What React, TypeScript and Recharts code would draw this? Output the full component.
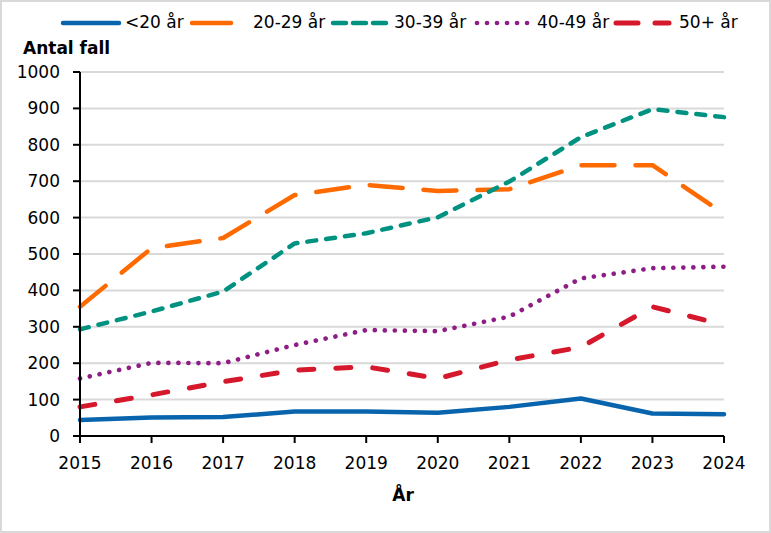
import { LineChart, Line, XAxis, YAxis, CartesianGrid } from 'recharts';

const years = ['2015', '2016', '2017', '2018', '2019', '2020', '2021', '2022', '2023', '2024'];
const under20 = [44, 51, 52, 67, 67, 64, 80, 103, 62, 60];
const age20to29 = [355, 516, 544, 662, 690, 673, 678, 744, 744, 610];
const age30to39 = [293, 342, 397, 529, 557, 601, 699, 821, 898, 876];
const age40to49 = [158, 201, 200, 250, 291, 288, 328, 433, 461, 465];
const age50plus = [80, 113, 149, 181, 190, 158, 209, 244, 355, 305];
const yTicks = [0, 100, 200, 300, 400, 500, 600, 700, 800, 900, 1000];

const series = [
  { key: 'u20', name: '<20 år', color: '#0864ad', dash: undefined, width: 4.5, lx: 63, lw: 56, ldash: undefined, tx: 125 },
  { key: 'a20', name: '20-29 år', color: '#ff6a00', dash: '33 21', width: 4.5, lx: 192, lw: 39, ldash: undefined, tx: 253 },
  { key: 'a30', name: '30-39 år', color: '#009280', dash: '9 10', width: 4.5, lx: 333, lw: 54, ldash: '13 7', tx: 394 },
  { key: 'a40', name: '40-49 år', color: '#8e1e86', dash: '0.01 10', width: 4.7, lx: 477, lw: 53, ldash: '0.01 10', tx: 537 },
  { key: 'a50', name: '50+ år', color: '#d5182b', dash: '15 22', width: 5, lx: 616, lw: 53, ldash: '22 17', tx: 679 },
];

const data = years.map((year, i) => ({
  year,
  u20: under20[i],
  a20: age20to29[i],
  a30: age30to39[i],
  a40: age40to49[i],
  a50: age50plus[i],
}));

const font = "'DejaVu Sans', Verdana, sans-serif";

export default function App() {
  return (
    <div style={{ position: 'absolute', left: 0, top: 0, width: 771, height: 533, background: '#fff', fontFamily: font }}>
      <LineChart width={771} height={533} data={data} margin={{ top: 72, right: 47, left: 20, bottom: 67 }}>
        <CartesianGrid vertical={false} stroke="#d9d9d9" strokeWidth={2} />
        <XAxis
          dataKey="year"
          height={30}
          tickSize={7}
          tickMargin={14}
          axisLine={{ stroke: '#000', strokeWidth: 2 }}
          tickLine={{ stroke: '#000', strokeWidth: 2 }}
          tick={{ fill: '#000', fontSize: 17, fontFamily: font }}
        />
        <YAxis
          domain={[0, 1000]}
          ticks={yTicks}
          width={60}
          tickSize={7}
          tickMargin={13}
          interval={0}
          axisLine={{ stroke: '#000', strokeWidth: 2 }}
          tickLine={{ stroke: '#000', strokeWidth: 2 }}
          tick={{ fill: '#000', fontSize: 17, fontFamily: font }}
        />
        {series.map((s) => (
          <Line
            key={s.key}
            dataKey={s.key}
            name={s.name}
            type="linear"
            stroke={s.color}
            strokeWidth={s.width}
            strokeDasharray={s.dash}
            strokeLinecap="round"
            strokeLinejoin="round"
            dot={false}
            activeDot={false}
            isAnimationActive={false}
          />
        ))}
      </LineChart>

      <div style={{ position: 'absolute', left: 23, top: 38, fontSize: 17, fontWeight: 'bold', color: '#000' }}>
        Antal fall
      </div>
      <div style={{ position: 'absolute', left: 0, width: 806, top: 485, textAlign: 'center', fontSize: 17, fontWeight: 'bold', color: '#000' }}>
        År
      </div>

      {series.map((s) => (
        <div key={s.key}>
          <svg style={{ position: 'absolute', left: s.lx - 3, top: 18 }} width={s.lw + 6} height={10}>
            <line
              x1={3}
              y1={5}
              x2={s.lw + 3}
              y2={5}
              stroke={s.color}
              strokeWidth={s.width}
              strokeDasharray={s.ldash}
              strokeLinecap="round"
            />
          </svg>
          <span style={{ position: 'absolute', left: s.tx, top: 12, fontSize: 17, color: '#000', whiteSpace: 'nowrap' }}>
            {s.name}
          </span>
        </div>
      ))}

      <div style={{ position: 'absolute', left: 0, top: 0, width: 771, height: 533, boxSizing: 'border-box', border: '2px solid #d9d9d9', pointerEvents: 'none' }} />
    </div>
  );
}
